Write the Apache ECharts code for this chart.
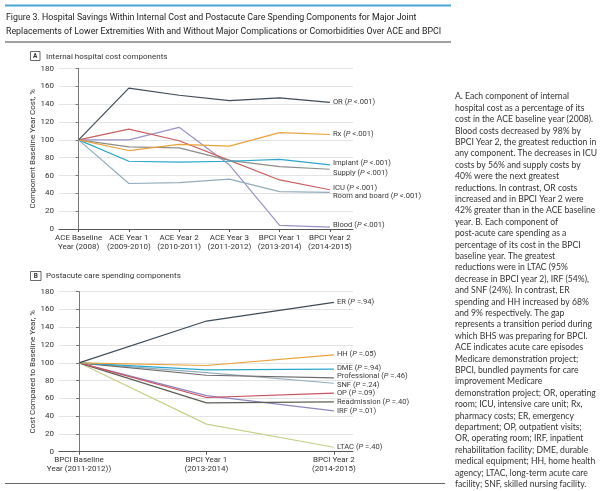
<!DOCTYPE html>
<html>
<head>
<meta charset="utf-8">
<script src="https://cdn.jsdelivr.net/npm/echarts@6/dist/echarts.min.js"></script>
<style>
html,body{margin:0;padding:0;background:#fff;}
#c{width:600px;height:491px;}
</style>
</head>
<body>
<div id="c"></div>
<script>
// ---- Panel A data ----
const catsA = ['ACE Baseline\nYear (2008)', 'ACE Year 1\n(2009-2010)', 'ACE Year 2\n(2010-2011)', 'ACE Year 3\n(2011-2012)', 'BPCI Year 1\n(2013-2014)', 'BPCI Year 2\n(2014-2015)'];
const orA      = [100, 158, 150, 144, 147, 142];
const rxA      = [100, 88, 95, 93, 108, 106];
const implantA = [100, 76, 75, 76, 78, 72];
const supplyA  = [100, 92, 91, 77, 70, 67];
const icuA     = [100, 112, 99, 77, 55, 44];
const roomA    = [100, 51, 52, 56, 42, 41];
const bloodA   = [100, 100, 114, 72, 4, 2];
const namesA   = ['OR', 'Rx', 'Implant', 'Supply', 'ICU', 'Room and board', 'Blood'];
const pA       = ['<.001', '<.001', '<.001', '<.001', '<.001', '<.001', '<.001'];

// ---- Panel B data ----
const catsB = ['BPCI Baseline\nYear (2011-2012))', 'BPCI Year 1\n(2013-2014)', 'BPCI Year 2\n(2014-2015)'];
const erB    = [100, 147, 168];
const hhB    = [100, 97, 109];
const dmeB   = [100, 92, 93];
const profB  = [100, 86, 83];
const snfB   = [100, 89, 77];
const opB    = [100, 61, 66];
const readB  = [100, 55, 56];
const irfB   = [100, 63, 46];
const ltacB  = [100, 31, 5];
const namesB = ['ER', 'HH', 'DME', 'Professional', 'SNF', 'OP', 'Readmission', 'IRF', 'LTAC'];
const pB     = ['=.94', '=.05', '=.94', '=.46', '=.24', '=.09', '=.40', '=.01', '=.40'];

const yTicks = [0, 20, 40, 60, 80, 100, 120, 140, 160, 180];

const FONT = 'Roboto';
const valsA = [orA, rxA, implantA, supplyA, icuA, roomA, bloodA];
const colorsA = ['#3e4c58', '#e9a23b', '#2aa6cc', '#8c8c8c', '#c9605f', '#93acbb', '#9a93c8'];
const dyA = [0, 0, -2, 4, -2, 4, -2];
const valsB = [erB, hhB, dmeB, profB, snfB, opB, readB, irfB, ltacB];
const colorsB = ['#3e4c58', '#e9a23b', '#2aa6cc', '#6e6a6a', '#93acbb', '#c9505f', '#5d5f55', '#8f86c0', '#c8cf8a'];
const dyB = [0, -1, -1, -1.5, 1.5, 0, 0, 0, 0];

function mkSeries(names, vals, ps, colors, dys, axisIdx) {
  return names.map((n, k) => ({
    type: 'line',
    name: n,
    xAxisIndex: axisIdx,
    yAxisIndex: axisIdx,
    data: vals[k].map((v, i) => [i, v]),
    showSymbol: false,
    symbol: 'none',
    silent: true,
    z: 10 - k,
    lineStyle: { color: colors[k], width: 1.2 },
    itemStyle: { color: colors[k] },
    endLabel: {
      show: true,
      distance: 3,
      offset: [0, dys[k]],
      formatter: n + ' ({i|P} ' + ps[k] + ')',
      color: '#3a3a3a',
      fontFamily: FONT,
      fontSize: 7.6,
      rich: { i: { fontStyle: 'italic', fontFamily: FONT, fontSize: 7.6, color: '#3a3a3a' } }
    }
  }));
}

function xAxisCfg(idx, cats, min, max) {
  const ticks = cats.map((c, i) => i);
  return {
    type: 'value', gridIndex: idx, min: min, max: max,
    splitLine: { show: false },
    axisLine: { show: true, onZero: false, lineStyle: { color: '#555', width: 1 } },
    axisTick: { show: true, length: 3, customValues: ticks, lineStyle: { color: '#555' } },
    axisLabel: {
      customValues: ticks,
      formatter: v => cats[Math.round(v)] || '',
      fontFamily: FONT, fontSize: 8, color: '#333', lineHeight: 9, margin: 4
    }
  };
}
function yAxisCfg(idx, name) {
  return {
    type: 'value', gridIndex: idx, min: yTicks[0], max: yTicks[yTicks.length - 1], interval: 20,
    name: name, nameLocation: 'middle', nameGap: 20, nameRotate: 90,
    nameTextStyle: { fontFamily: FONT, fontSize: 8, color: '#333' },
    axisLine: { show: true, lineStyle: { color: '#777' } },
    axisTick: { show: true, length: 3, lineStyle: { color: '#777' } },
    splitLine: { show: true, lineStyle: { color: '#e3e3e3', width: 1 } },
    axisLabel: { fontFamily: FONT, fontSize: 8, color: '#333', margin: 5 }
  };
}

const paragraph = [
 'A. Each component of internal',
 'hospital cost as a percentage of its',
 'cost in the ACE baseline year (2008).',
 'Blood costs decreased by 98% by',
 'BPCI Year 2, the greatest reduction in',
 'any component. The decreases in ICU',
 'costs by 56% and supply costs by',
 '40% were the next greatest',
 'reductions. In contrast, OR costs',
 'increased and in BPCI Year 2 were',
 '42% greater than in the ACE baseline',
 'year. B. Each component of',
 'post-acute care spending as a',
 'percentage of its cost in the BPCI',
 'baseline year. The greatest',
 'reductions were in LTAC (95%',
 'decrease in BPCI year 2), IRF (54%),',
 'and SNF (24%). In contrast, ER',
 'spending and HH increased by 68%',
 'and 9% respectively. The gap',
 'represents a transition period during',
 'which BHS was preparing for BPCI.',
 'ACE indicates acute care episodes',
 'Medicare demonstration project;',
 'BPCI, bundled payments for care',
 'improvement Medicare',
 'demonstration project; OR, operating',
 'room; ICU, intensive care unit; Rx,',
 'pharmacy costs; ER, emergency',
 'department; OP, outpatient visits;',
 'OR, operating room; IRF, inpatient',
 'rehabilitation facility; DME, durable',
 'medical equipment; HH, home health',
 'agency; LTAC, long-term acute care',
 'facility; SNF, skilled nursing facility.'
].join('\n');

const chart = echarts.init(document.getElementById('c'), null, { renderer: 'canvas' });
chart.setOption({
  backgroundColor: '#fff',
  animation: false,
  grid: [
    { left: 59, top: 68.5, width: 294, height: 160.5 },
    { left: 59, top: 291.7, width: 294, height: 160 }
  ],
  xAxis: [ xAxisCfg(0, catsA, -0.39, 5.46), xAxisCfg(1, catsB, -0.157, 2.15) ],
  yAxis: [ yAxisCfg(0, 'Component Baseline Year Cost, %'), yAxisCfg(1, 'Cost Compared to Baseline Year, %') ],
  series: mkSeries(namesA, valsA, pA, colorsA, dyA, 0).concat(mkSeries(namesB, valsB, pB, colorsB, dyB, 1)),
  graphic: [
    { type: 'rect', shape: { x: 5, y: 4.5, width: 446, height: 2 }, style: { fill: '#4ba6d8' } },
    { type: 'text', x: 6, y: 11.5, style: { text: 'Figure 3. Hospital Savings Within Internal Cost and Postacute Care Spending Components for Major Joint\nReplacements of Lower Extremities With and Without Major Complications or Comorbidities Over ACE and BPCI', fontFamily: FONT, fontSize: 8.8, lineHeight: 13.5, fill: '#222' } },
    { type: 'rect', shape: { x: 5, y: 41.5, width: 446, height: 1 }, style: { fill: '#444' } },
    { type: 'rect', shape: { x: 30.5, y: 51.5, width: 9.5, height: 9 }, style: { fill: '#fff', stroke: '#444', lineWidth: 0.8 } },
    { type: 'text', x: 35.3, y: 56.2, style: { text: 'A', fontFamily: FONT, fontSize: 6.5, fontWeight: 'bold', fill: '#333', align: 'center', verticalAlign: 'middle' } },
    { type: 'text', x: 46, y: 56.5, style: { text: 'Internal hospital cost components', fontFamily: FONT, fontSize: 8, fill: '#333', verticalAlign: 'middle' } },
    { type: 'rect', shape: { x: 30.5, y: 271.5, width: 10.5, height: 9 }, style: { fill: '#fff', stroke: '#444', lineWidth: 0.8 } },
    { type: 'text', x: 35.8, y: 276.2, style: { text: 'B', fontFamily: FONT, fontSize: 6.5, fontWeight: 'bold', fill: '#333', align: 'center', verticalAlign: 'middle' } },
    { type: 'text', x: 46, y: 276, style: { text: 'Postacute care spending components', fontFamily: FONT, fontSize: 8, fill: '#333', verticalAlign: 'middle' } },
    { type: 'rect', shape: { x: 5, y: 483, width: 440, height: 1 }, style: { fill: '#666' } },
    { type: 'text', x: 455, y: 91, style: { text: paragraph, fontFamily: 'Lato', fontSize: 8.6, lineHeight: 11.4, fill: '#333' } }
  ]
});
</script>
</body>
</html>
